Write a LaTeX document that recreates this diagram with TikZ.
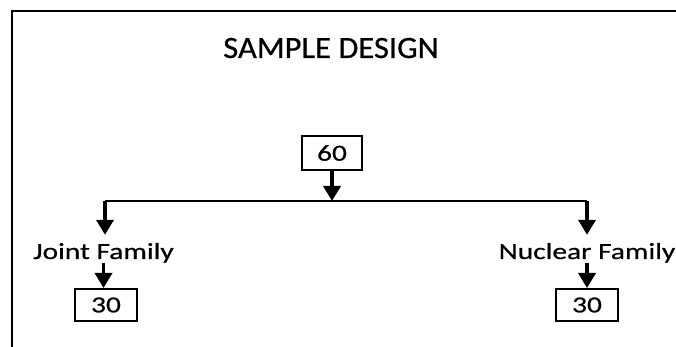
\documentclass[tikz,border=0pt]{standalone}
\usepackage{fontspec}
\setmainfont{Carlito}
\newfontfamily\titlefont[FakeStretch=1.05,FakeBold=0.6]{Carlito}
\newfontfamily\labelfont[FakeStretch=1.28,FakeBold=0.6]{Carlito}
\usetikzlibrary{arrows.meta,calc,positioning}

\begin{document}
\begin{tikzpicture}[scale=1,
	arr/.style={->,>={Triangle[length=15pt,width=17pt]},line width=3.5pt,draw=black},
	numbox/.style={draw=black,line width=2pt,inner sep=0pt,font=\labelfont\fontsize{23pt}{23pt}\selectfont},
	lbl/.style={inner sep=0pt,anchor=base,font=\labelfont\fontsize{23pt}{23pt}\selectfont}]
	
	\useasboundingbox (0pt,0pt) rectangle (676pt,347pt);
	\draw[line width=2.5pt,draw=black] (12pt,0pt) -- (12pt,336pt) -- (680pt,336pt);
	\node[inner sep=0pt,anchor=base,font=\titlefont\fontsize{31pt}{31pt}\selectfont] (title) at (331pt,289pt){SAMPLE DESIGN};
	
	\node[numbox,minimum width=60pt,minimum height=34pt] (b60) at (332pt,194pt){60};
	\coordinate (jm) at (332pt,146pt);
	\coordinate (jl) at (105pt,146pt);
	\coordinate (jr) at (587pt,146pt);
	\node[lbl] (joint) at (103.5pt,88pt){Joint Family};
	\node[lbl] (nuclear) at (587pt,88pt){Nuclear Family};
	\node[numbox,minimum width=62pt,minimum height=32pt] (b30l) at (106pt,42pt){30};
	\node[numbox,minimum width=62pt,minimum height=32pt] (b30r) at (587pt,42pt){30};
	
	\draw[line width=2.5pt,draw=black] (jl) -- (jr);
	\draw[arr] (b60) -- (jm);
	\draw[arr,shorten >=8pt] (jl) -- (jl |- joint.north);
	\draw[arr,shorten >=8pt] (jr) -- (jr |- nuclear.north);
	
	\draw[arr] (joint.south) -- (joint.south |- b30l.north);
	\draw[arr] (nuclear.south) -- (nuclear.south |- b30r.north);
\end{tikzpicture}
\end{document}
